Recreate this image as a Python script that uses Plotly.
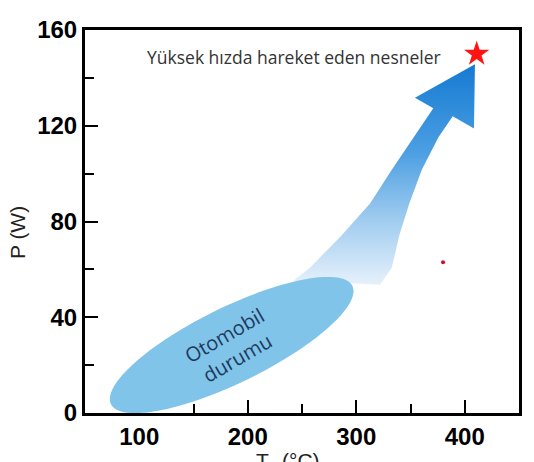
import numpy as np
import plotly.graph_objects as go

# axis setup
x_range = [50, 450]
y_range = [0, 160]
x_ticks = [100, 200, 300, 400]
y_ticks = [0, 40, 80, 120, 160]

# gradient arrow outline (data units)
arrow_x = [242.0, 257.4, 286.6, 312.7, 332.6, 352.6, 371.0, 354.1, 409.4,
           408.5, 388.9, 375.6, 360.3, 348.9, 339.7, 332.7, 321.9]
arrow_y = [55.2, 60.7, 74.3, 87.5, 101.5, 115.1, 127.3, 131.7, 145.7,
           118.9, 124.0, 115.1, 101.5, 87.5, 74.3, 60.7, 53.6]

# "Otomobil durumu" ellipse: centre (data), semi axes (px), tilt (deg)
ellipse_center = (185.2, 28.4)
ellipse_axes_px = (135.0, 38.5)
ellipse_tilt = 26.7

star_x, star_y = [411], [150]
dot_x, dot_y = [380], [63]

W, H = 534, 462
margin = dict(l=85, r=15, t=30, b=40)
plot_w = W - margin["l"] - margin["r"]
plot_h = H - margin["t"] - margin["b"]
px_x = plot_w / (x_range[1] - x_range[0])
px_y = plot_h / (y_range[1] - y_range[0])


def ellipse_path(center, axes, tilt, n=120):
    t = np.linspace(0, 2 * np.pi, n)
    a, b = axes
    th = np.radians(tilt)
    u, v = a * np.cos(t), b * np.sin(t)
    xs = center[0] + (u * np.cos(th) - v * np.sin(th)) / px_x
    ys = center[1] + (u * np.sin(th) + v * np.cos(th)) / px_y
    pts = [f"{x:.2f},{y:.2f}" for x, y in zip(xs, ys)]
    return "M " + " L ".join(pts) + " Z"


fig = go.Figure()

fig.add_trace(go.Scatter(
    x=arrow_x, y=arrow_y, mode="lines", fill="toself",
    line=dict(width=0, color="rgba(0,0,0,0)"),
    fillgradient=dict(type="vertical", colorscale=[
        [0, "#e6f1fb"], [0.3, "#9ecbef"], [0.6, "#4c9fe2"], [1, "#157ad2"]]),
    hoverinfo="skip",
))
fig.add_trace(go.Scatter(
    x=star_x, y=star_y, mode="markers",
    marker=dict(symbol="star", size=19, color="#ff1414", line=dict(width=0)),
))
fig.add_trace(go.Scatter(
    x=dot_x, y=dot_y, mode="markers",
    marker=dict(size=4, color="#c8102e", line=dict(width=0)),
))

fig.add_shape(type="path", path=ellipse_path(ellipse_center, ellipse_axes_px, ellipse_tilt),
              xref="x", yref="y", fillcolor="#80c4ea", line=dict(width=0), layer="above")

fig.add_annotation(x=243, y=148.6, xref="x", yref="y", text="Yüksek hızda hareket eden nesneler",
                   showarrow=False, font=dict(family="Open Sans", size=17.5, color="#333333"))
fig.add_annotation(x=184.6, y=27.8, xref="x", yref="y", text="Otomobil<br>durumu",
                   showarrow=False, textangle=-30,
                   font=dict(family="Open Sans", size=20, color="#1e3a5c"))
fig.add_annotation(x=-0.157, y=0.472, xref="paper", yref="paper", xanchor="center", yanchor="middle",
                   text="P (W)", showarrow=False, textangle=-90,
                   font=dict(family="Liberation Sans", size=21, color="#222222"))
fig.add_annotation(x=0.468, y=-0.088, xref="paper", yref="paper", xanchor="center", yanchor="top",
                   text="T<sub>s</sub> (°C)", showarrow=False,
                   font=dict(family="Liberation Sans", size=21, color="#222222"))

axis_style = dict(
    showline=True, linewidth=3, linecolor="black", mirror=True,
    ticks="inside", ticklen=13, tickwidth=2, tickcolor="black",
    showgrid=False, zeroline=False,
    tickfont=dict(family="Liberation Sans", size=24, color="black", weight="bold"),
)

fig.update_layout(
    width=W, height=H, margin=margin,
    paper_bgcolor="white", plot_bgcolor="white",
    showlegend=False,
    xaxis=dict(range=x_range, tickvals=x_ticks,
               minor=dict(dtick=50, tick0=0, ticks="inside", ticklen=9, tickwidth=2, tickcolor="black"),
               **axis_style),
    yaxis=dict(range=y_range, tickvals=y_ticks,
               minor=dict(dtick=20, tick0=0, ticks="inside", ticklen=9, tickwidth=2, tickcolor="black"),
               **axis_style),
)

# drop the default page margin so the figure sits at the window's corner
fig.write_html("out.html", config={"displayModeBar": False},
               post_script="document.body.style.margin='0';document.body.style.overflow='hidden';")
